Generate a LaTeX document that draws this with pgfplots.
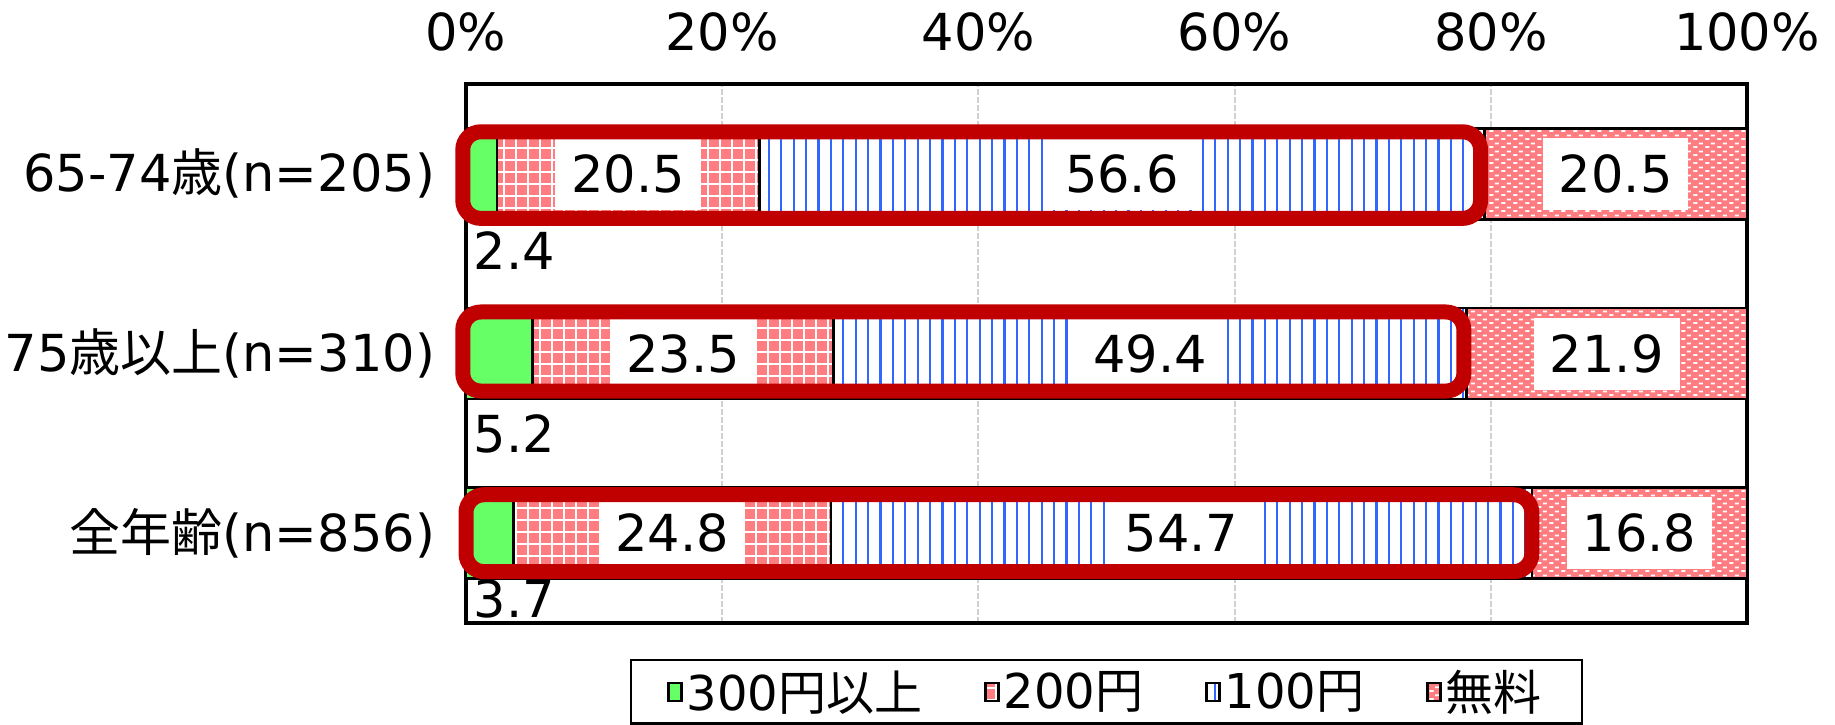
\documentclass[border=0pt]{standalone}
\usepackage{pgfplots}
\usepackage{pgfplotstable}
\pgfplotsset{compat=1.18}
\usepackage{fontspec}
\setmainfont{DejaVu Sans}
\newfontfamily\cjk{Noto Sans CJK JP}
\usetikzlibrary{patterns,patterns.meta}
\definecolor{cgreen}{HTML}{66FF66}
\definecolor{cpink}{HTML}{FF7C80}
\definecolor{cblue}{HTML}{3366FF}
\definecolor{cdred}{HTML}{C00000}
\definecolor{cgrid}{HTML}{D0D0D0}
\pgfdeclarepatternformonly{dashbrick}{\pgfqpoint{0pt}{0pt}}{\pgfqpoint{6pt}{4pt}}{\pgfqpoint{6pt}{4pt}}{%
  \pgfpathrectangle{\pgfqpoint{0.7pt}{0.6pt}}{\pgfqpoint{2.2pt}{1pt}}%
  \pgfpathrectangle{\pgfqpoint{3.7pt}{2.6pt}}{\pgfqpoint{2.2pt}{1pt}}%
  \pgfusepath{fill}}

% 300円以上 (dy = offset of the label below the bar, in pt)
\pgfplotstableread{
y x dy
3 2.4 38.5
2 5.2 40
1 3.7 33
}\tA
% 200円
\pgfplotstableread{
y x
3 20.5
2 23.5
1 24.8
}\tB
% 100円
\pgfplotstableread{
y x
3 56.6
2 49.4
1 54.7
}\tC
% 無料
\pgfplotstableread{
y x
3 20.5
2 21.9
1 16.8
}\tD

\pgfplotsset{
  midlab/.style={
    point meta=explicit,
    nodes near coords={\pgfmathprintnumber[fixed,fixed zerofill,precision=1]{\pgfplotspointmeta}},
    every node near coord/.append style={anchor=center, fill=white, draw=none, text=black, inner xsep=8pt, minimum height=36pt},
  },
}

\begin{document}
\begin{tikzpicture}
\begin{axis}[
  name=ax,
  font=\fontsize{25.5pt}{31pt}\selectfont,
  scale only axis, width=640.5pt, height=269.5pt,
  xbar stacked, bar width=45.5pt,
  xmin=0, xmax=100, ymin=0.5, ymax=3.5,
  clip=false,
  /pgf/number format/assume math mode=true,
  xtick={0,20,40,60,80,100},
  xticklabel={\pgfmathprintnumber{\tick}\%},
  xticklabel pos=upper,
  ytick={1,2,3},
  yticklabels={{\cjk 全年齢}(n=856),75{\cjk 歳以上}(n=310),65-74{\cjk 歳}(n=205)},
  major tick length=0pt,
  xmajorgrids,
  major grid style={draw=cgrid, line width=1pt, dash pattern=on 3pt off 1pt},
  axis line style={line width=1.6pt},
  every x tick label/.append style={anchor=base, yshift=16.75pt},
  every y tick label/.append style={xshift=-12pt},
  legend columns=4,
  legend style={at={(0.5,-0.0668)}, anchor=north, draw=black, line width=1.2pt,
    inner xsep=18pt, inner ysep=3pt, font=\fontsize{24pt}{29pt}\selectfont,
    /tikz/every even column/.append style={column sep=29pt}},
  legend image code/.code={\draw[#1] (0pt,-4.5pt) rectangle (6.5pt,4.5pt);},
]
\addplot[fill=cgreen, draw=black, line width=1.2pt,
  point meta=explicit,
  nodes near coords={\pgfmathprintnumber[fixed,fixed zerofill,precision=1]{\pgfplotspointmeta}},
  visualization depends on={\thisrow{x} \as \rawx},
  visualization depends on={\thisrow{dy} \as \dyu},
  every node near coord/.append style={xshift=-\rawx*3.2025pt, yshift=-\dyu*1pt, anchor=west, text=black}]
  table[x=x, y=y, meta=x]{\tA};
\addplot[fill=cpink, draw=black, line width=1.2pt,
  postaction={pattern={Hatch[angle=0,distance=6pt,line width=1.1pt]}, pattern color=white},
  midlab]
  table[x=x, y=y, meta=x]{\tB};
\addplot[fill=white, draw=black, line width=1.2pt,
  postaction={pattern={Lines[angle=90,distance=6.2pt,line width=1.1pt]}, pattern color=cblue},
  midlab]
  table[x=x, y=y, meta=x]{\tC};
\addplot[fill=cpink, draw=black, line width=1.2pt,
  postaction={pattern=dashbrick, pattern color=white},
  midlab]
  table[x=x, y=y, meta=x]{\tD};
\legend{300{\cjk 円以上},200{\cjk 円},100{\cjk 円},{\cjk 無料}}
\coordinate (r1a) at (axis cs:-0.25,2.752);
\coordinate (r1b) at (axis cs:79.2,3.234);
\coordinate (r2a) at (axis cs:-0.25,1.791);
\coordinate (r2b) at (axis cs:77.9,2.231);
\coordinate (r3a) at (axis cs:0,0.786);
\coordinate (r3b) at (axis cs:83.2,1.214);
\end{axis}
\draw[cdred, line width=7.5pt, rounded corners=9pt] (r1a) rectangle (r1b);
\draw[cdred, line width=7.5pt, rounded corners=9pt] (r2a) rectangle (r2b);
\draw[cdred, line width=7.5pt, rounded corners=9pt] (r3a) rectangle (r3b);
\pgfresetboundingbox
\useasboundingbox ([shift={(-233pt,-50.5pt)}]ax.south west) rectangle ([shift={(44pt,42pt)}]ax.north east);
\end{tikzpicture}
\end{document}
